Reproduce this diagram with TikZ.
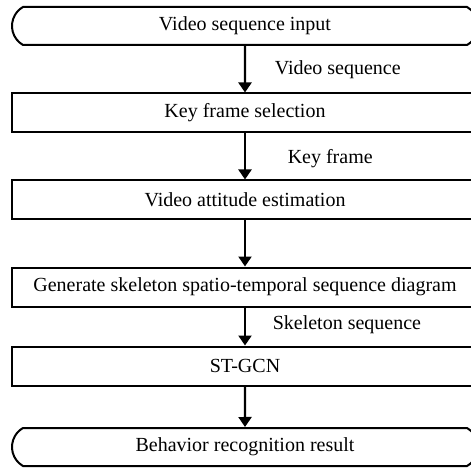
\documentclass[tikz,border=0pt]{standalone}
\usepackage{fontspec}
\setmainfont{Liberation Serif}
\usetikzlibrary{shapes.misc, arrows.meta, positioning, calc}

\begin{document}
\begin{tikzpicture} [-{Triangle[width = 6.5pt, length = 5pt]}, shorten >= 0pt, line width = 1.1pt, node distance = 43.5pt,
  stepbox/.style = {draw, rectangle, line width = 1pt, minimum width = 233pt, minimum height = 19.5pt, inner sep = 0pt, font = \fontsize{10pt}{12pt}\selectfont},
  endbox/.style = {draw, rounded rectangle, rounded rectangle arc length = 120, line width = 1pt, minimum width = 233pt, minimum height = 19pt, inner sep = 0pt, font = \fontsize{10pt}{12pt}\selectfont},
  flowlabel/.style = {anchor = west, font = \fontsize{10pt}{12pt}\selectfont}]

\useasboundingbox (-122.5pt, 13pt) rectangle (112.5pt, -222pt);

\node [endbox] (input) {Video sequence input};
\node [stepbox] (keysel) [below of = input] {Key frame selection};
\node [stepbox] (pose) [below of = keysel] {Video attitude estimation};
\node [stepbox] (skel) [below of = pose] {Generate skeleton spatio-temporal sequence diagram};
\node [stepbox] (gcn) [below of = skel, node distance = 39.5pt] {ST-GCN};
\node [endbox] (result) [below of = gcn, node distance = 40.5pt] {Behavior recognition result};

\path (input) edge (keysel);
\path (keysel) edge (pose);
\path (pose) edge (skel);
\path (skel) edge (gcn);
\path (gcn) edge (result);

\node [flowlabel, xshift = 11pt] (lvid) at ($(input)!0.5!(keysel)$) {Video sequence};
\node [flowlabel, xshift = 17.5pt, yshift = -1pt] (lkey) at ($(keysel)!0.5!(pose)$) {Key frame};
\node [flowlabel, xshift = 10pt, yshift = 1pt] (lskel) at ($(skel)!0.5!(gcn)$) {Skeleton sequence};

\end{tikzpicture}
\end{document}
